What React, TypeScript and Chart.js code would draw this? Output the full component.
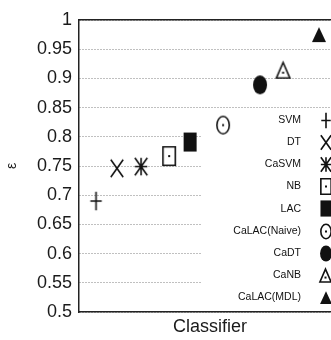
import React, { useEffect, useRef } from 'react';
import { Chart, registerables } from 'chart.js';

Chart.register(...registerables);

// ---- data ----
const classifiers = ['SVM', 'DT', 'CaSVM', 'NB', 'LAC', 'CaLAC(Naive)', 'CaDT', 'CaNB', 'CaLAC(MDL)'];
const xPositions = [6.5, 14.5, 23.7, 34.4, 42.4, 55.0, 69.1, 77.9, 91.6];
const epsilonValues = [0.69, 0.746, 0.749, 0.767, 0.791, 0.82, 0.889, 0.914, 0.975];
const markerKinds = ['plus', 'cross', 'star', 'squareDot', 'squareFilled', 'circleDot', 'circleFilled', 'triangleDot', 'triangleFilled'];
const yTickValues = [0.5, 0.55, 0.6, 0.65, 0.7, 0.75, 0.8, 0.85, 0.9, 0.95, 1];
const yTickLabels = ['0.5', '0.55', '0.6', '0.65', '0.7', '0.75', '0.8', '0.85', '0.9', '0.95', '1'];
const xTitle = 'Classifier';
const yTitle = 'ε';

// ---- styles ----
const FONT = "'Liberation Sans', Arial, Helvetica, sans-serif";
const INK = '#111111';
const CANVAS_W = 333;
const CANVAS_H = 334;
const markerSize: Record<string, [number, number]> = {
  plus: [13, 20],
  cross: [14, 19],
  star: [14, 19],
  squareDot: [14, 20],
  squareFilled: [13, 19],
  circleDot: [14, 19],
  circleFilled: [14, 19],
  triangleDot: [15, 17],
  triangleFilled: [14, 15],
};

function makeMarker(kind: string, s: number): HTMLCanvasElement {
  const [w0, h0] = markerSize[kind];
  const w = w0 * s;
  const h = h0 * s;
  const lw = 1.6;
  const c = document.createElement('canvas');
  c.width = Math.ceil(w) + 4;
  c.height = Math.ceil(h) + 4;
  const g = c.getContext('2d')!;
  g.strokeStyle = INK;
  g.fillStyle = INK;
  g.lineWidth = lw;
  const cx = c.width / 2;
  const cy = c.height / 2;
  const hs = lw / 2;
  const l = cx - w / 2 + hs, r = cx + w / 2 - hs, t = cy - h / 2 + hs, b = cy + h / 2 - hs;
  const dot = (x: number, y: number) => g.fillRect(x - 1, y - 1, 2, 2);
  g.beginPath();
  switch (kind) {
    case 'plus':
      g.moveTo(cx, t); g.lineTo(cx, b); g.moveTo(l, cy); g.lineTo(r, cy); g.stroke();
      break;
    case 'cross':
      g.moveTo(l, t); g.lineTo(r, b); g.moveTo(r, t); g.lineTo(l, b); g.stroke();
      break;
    case 'star':
      g.moveTo(cx, t); g.lineTo(cx, b); g.moveTo(l, cy); g.lineTo(r, cy);
      g.moveTo(l, t); g.lineTo(r, b); g.moveTo(r, t); g.lineTo(l, b); g.stroke();
      break;
    case 'squareDot':
      g.rect(l, t, r - l, b - t); g.stroke(); dot(cx, cy);
      break;
    case 'squareFilled':
      g.fillRect(cx - w / 2, cy - h / 2, w, h);
      break;
    case 'circleDot':
      g.ellipse(cx, cy, (r - l) / 2, (b - t) / 2, 0, 0, Math.PI * 2); g.stroke(); dot(cx, cy);
      break;
    case 'circleFilled':
      g.ellipse(cx, cy, w / 2, h / 2, 0, 0, Math.PI * 2); g.fill();
      break;
    case 'triangleDot':
      g.moveTo(cx, t); g.lineTo(r, b); g.lineTo(l, b); g.closePath(); g.stroke(); dot(cx, t + (b - t) * 0.66);
      break;
    case 'triangleFilled':
      g.moveTo(cx, cy - h / 2); g.lineTo(cx + w / 2, cy + h / 2); g.lineTo(cx - w / 2, cy + h / 2); g.closePath(); g.fill();
      break;
  }
  return c;
}

const insideLegend = {
  id: 'insideLegend',
  beforeDatasetsDraw(chart: any, _args: any, opts: any) {
    const { ctx, chartArea } = chart;
    ctx.save();
    ctx.fillStyle = '#ffffff';
    const x = chartArea.left + opts.boxLeft;
    const y = chartArea.top + opts.boxTop;
    ctx.fillRect(x, y, chartArea.right - x, chartArea.bottom - 2 - y);
    ctx.restore();
  },
  afterDatasetsDraw(chart: any, _args: any, opts: any) {
    const { ctx, chartArea } = chart;
    ctx.save();
    ctx.font = opts.font;
    ctx.fillStyle = INK;
    ctx.textAlign = 'right';
    ctx.textBaseline = 'middle';
    chart.data.datasets.forEach((ds: any, i: number) => {
      const y = chartArea.top + opts.firstRow + i * opts.rowGap;
      ctx.fillText(ds.label, chartArea.left + opts.textRight, y);
      const img = ds.legendMarker as HTMLCanvasElement;
      const mx = chartArea.left + opts.markerX;
      ctx.drawImage(img, Math.round(mx - img.width / 2), Math.round(y - img.height / 2));
    });
    ctx.restore();
  },
};

export default function App() {
  const ref = useRef<HTMLCanvasElement>(null);
  useEffect(() => {
    document.documentElement.style.overflow = 'hidden';
    const canvas = ref.current!;
    const datasets = classifiers.map((name, i) => ({
      label: name,
      data: [{ x: xPositions[i], y: epsilonValues[i] }],
      pointStyle: makeMarker(markerKinds[i], 1),
      legendMarker: makeMarker(markerKinds[i], 0.85),
      pointRadius: 8,
      pointHoverRadius: 8,
      showLine: false,
    }));
    const chart = new Chart(canvas, {
      type: 'scatter',
      data: { datasets } as any,
      options: {
        animation: false,
        responsive: true,
        maintainAspectRatio: false,
        events: [],
        layout: { padding: 0, autoPadding: false },
        plugins: {
          legend: { display: false },
          tooltip: { enabled: false },
          insideLegend: {
            boxLeft: 123,
            boxTop: 89,
            firstRow: 100,
            rowGap: 22.2,
            textRight: 222,
            markerX: 246.5,
            font: `10.5px ${FONT}`,
          },
        } as any,
        scales: {
          x: {
            type: 'linear',
            position: 'bottom',
            min: 0,
            max: 100,
            grid: { display: false, drawTicks: false },
            ticks: { display: false },
            border: { display: true, color: '#222', width: 1.5 },
            title: {
              display: true,
              text: xTitle,
              color: '#1a1a1a',
              font: { family: FONT, size: 18 },
              padding: { top: 4, bottom: 4 },
            },
            afterFit: (s: any) => { s.height = 30; },
          },
          x2: {
            type: 'linear',
            position: 'top',
            min: 0,
            max: 100,
            grid: { display: false, drawTicks: false },
            ticks: { display: false },
            border: { display: true, color: '#222', width: 1.5 },
            afterFit: (s: any) => { s.height = 12; },
          },
          y: {
            type: 'linear',
            min: 0.5,
            max: 1,
            afterBuildTicks: (axis: any) => { axis.ticks = yTickValues.map((v) => ({ value: v })); },
            grid: { display: true, color: '#808080', lineWidth: 1, drawTicks: false, borderDash: [1, 2] },
            border: { display: true, color: '#222', width: 1.5, dash: [1, 2] },
            ticks: {
              color: '#1a1a1a',
              padding: 7,
              font: { family: FONT, size: 18 },
              callback: (_v: any, idx: number) => yTickLabels[idx],
            },
            title: {
              display: true,
              text: yTitle,
              color: '#1a1a1a',
              font: { family: FONT, size: 14, lineHeight: 0.6 },
              padding: { top: 0, bottom: 0 },
            },
            afterFit: (s: any) => { s.width = 71; s.paddingTop = 0; s.paddingBottom = 0; },
          },
        },
      } as any,
      plugins: [insideLegend as any],
    });
    return () => chart.destroy();
  }, []);
  return (
    <div style={{ position: 'fixed', left: 8, top: 8, width: 323, height: 332, overflow: 'hidden' }}>
      <div style={{ position: 'relative', width: CANVAS_W, height: CANVAS_H }}>
        <canvas ref={ref} />
      </div>
    </div>
  );
}
